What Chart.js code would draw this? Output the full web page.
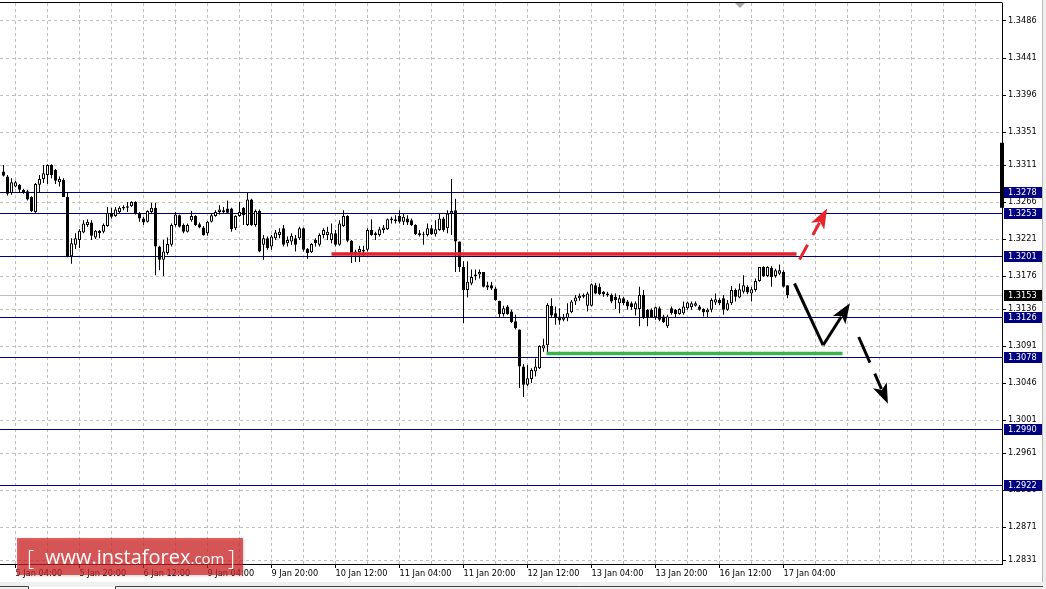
<!DOCTYPE html>
<html>
<head>
<meta charset="utf-8">
<style>
  html, body { margin: 0; padding: 0; background: #fff; }
  canvas { display: block; }
</style>
<script src="https://cdn.jsdelivr.net/npm/chart.js@4.4.1/dist/chart.umd.min.js"></script>
</head>
<body>
<canvas id="chart" width="1046" height="589"></canvas>
<script>
// H1 candles, one per bar index (0 = 5 Jan 01:00)
const opens = [
  1.3303,1.3297,1.3277,1.3285,1.3287,1.3281,1.3279,1.3272,1.3254,1.3287,
  1.3294,1.3299,1.3311,1.3305,1.3290,1.3293,1.3272,1.3200,1.3214,1.3220,
  1.3229,1.3238,1.3241,1.3223,1.3231,1.3230,1.3237,1.3253,1.3249,1.3254,
  1.3260,1.3259,1.3261,1.3266,1.3252,1.3246,1.3242,1.3254,1.3259,1.3212,
  1.3196,1.3204,1.3214,1.3238,1.3250,1.3238,1.3230,1.3244,1.3249,1.3239,
  1.3235,1.3228,1.3242,1.3249,1.3254,1.3256,1.3258,1.3258,1.3234,1.3249,
  1.3259,1.3238,1.3269,1.3238,1.3255,1.3214,1.3222,1.3212,1.3222,1.3226,
  1.3234,1.3216,1.3218,1.3222,1.3222,1.3234,1.3209,1.3205,1.3220,1.3214,
  1.3226,1.3226,1.3220,1.3228,1.3214,1.3237,1.3249,1.3219,1.3206,1.3205,
  1.3208,1.3208,1.3232,1.3226,1.3226,1.3232,1.3233,1.3244,1.3243,1.3249,
  1.3242,1.3246,1.3244,1.3238,1.3228,1.3227,1.3226,1.3234,1.3227,1.3232,
  1.3246,1.3234,1.3252,1.3256,1.3218,1.3187,1.3159,1.3167,1.3176,1.3178,
  1.3181,1.3165,1.3165,1.3161,1.3146,1.3130,1.3139,1.3133,1.3121,1.3111,
  1.3066,1.3044,1.3051,1.3060,1.3064,1.3088,1.3092,1.3140,1.3131,1.3127,
  1.3123,1.3125,1.3132,1.3145,1.3149,1.3151,1.3140,1.3140,1.3165,1.3163,
  1.3157,1.3155,1.3153,1.3151,1.3143,1.3149,1.3145,1.3143,1.3136,1.3136,
  1.3153,1.3135,1.3135,1.3126,1.3137,1.3127,1.3115,1.3137,1.3135,1.3130,
  1.3131,1.3137,1.3138,1.3140,1.3139,1.3136,1.3132,1.3135,1.3144,1.3147,
  1.3149,1.3135,1.3143,1.3159,1.3150,1.3157,1.3163,1.3155,1.3159,1.3170,
  1.3187,1.3176,1.3186,1.3176,1.3179,1.3181,1.3165
];
const highs = [
  1.3311,1.3299,1.3295,1.3292,1.3288,1.3282,1.3281,1.3273,1.3289,1.3299,
  1.3311,1.3312,1.3312,1.3306,1.3297,1.3295,1.3278,1.3222,1.3228,1.3233,
  1.3244,1.3245,1.3244,1.3232,1.3232,1.3240,1.3260,1.3259,1.3260,1.3261,
  1.3262,1.3266,1.3267,1.3267,1.3254,1.3248,1.3256,1.3265,1.3265,1.3213,
  1.3220,1.3223,1.3240,1.3254,1.3251,1.3240,1.3240,1.3255,1.3250,1.3241,
  1.3237,1.3243,1.3252,1.3256,1.3262,1.3260,1.3268,1.3259,1.3250,1.3266,
  1.3260,1.3277,1.3270,1.3257,1.3257,1.3226,1.3224,1.3226,1.3232,1.3234,
  1.3238,1.3224,1.3228,1.3226,1.3236,1.3235,1.3210,1.3216,1.3222,1.3228,
  1.3234,1.3236,1.3240,1.3232,1.3244,1.3256,1.3250,1.3220,1.3208,1.3213,
  1.3213,1.3234,1.3245,1.3230,1.3236,1.3238,1.3246,1.3248,1.3250,1.3256,
  1.3252,1.3250,1.3246,1.3239,1.3232,1.3230,1.3240,1.3238,1.3244,1.3252,
  1.3248,1.3256,1.3294,1.3270,1.3218,1.3194,1.3194,1.3184,1.3184,1.3184,
  1.3181,1.3169,1.3169,1.3163,1.3146,1.3140,1.3141,1.3135,1.3129,1.3111,
  1.3069,1.3068,1.3064,1.3076,1.3092,1.3100,1.3143,1.3149,1.3139,1.3137,
  1.3130,1.3143,1.3147,1.3153,1.3155,1.3155,1.3157,1.3167,1.3168,1.3167,
  1.3158,1.3157,1.3155,1.3155,1.3153,1.3151,1.3147,1.3145,1.3145,1.3163,
  1.3159,1.3136,1.3137,1.3139,1.3139,1.3129,1.3129,1.3139,1.3136,1.3137,
  1.3145,1.3145,1.3145,1.3145,1.3141,1.3137,1.3137,1.3149,1.3155,1.3149,
  1.3153,1.3147,1.3164,1.3161,1.3167,1.3177,1.3165,1.3163,1.3173,1.3187,
  1.3188,1.3188,1.3188,1.3185,1.3190,1.3183,1.3165
];
const lows = [
  1.3297,1.3274,1.3275,1.3284,1.3277,1.3276,1.3268,1.3254,1.3253,1.3277,
  1.3289,1.3288,1.3295,1.3288,1.3285,1.3272,1.3199,1.3191,1.3209,1.3210,
  1.3228,1.3236,1.3220,1.3221,1.3222,1.3228,1.3236,1.3246,1.3248,1.3252,
  1.3256,1.3254,1.3260,1.3251,1.3242,1.3238,1.3241,1.3252,1.3177,1.3183,
  1.3176,1.3202,1.3212,1.3236,1.3235,1.3228,1.3229,1.3242,1.3237,1.3234,
  1.3225,1.3225,1.3241,1.3248,1.3251,1.3252,1.3252,1.3230,1.3232,1.3248,
  1.3238,1.3237,1.3237,1.3236,1.3205,1.3196,1.3208,1.3208,1.3220,1.3222,
  1.3212,1.3212,1.3214,1.3206,1.3220,1.3206,1.3197,1.3204,1.3212,1.3212,
  1.3222,1.3220,1.3216,1.3212,1.3213,1.3236,1.3217,1.3192,1.3193,1.3193,
  1.3200,1.3206,1.3225,1.3220,1.3224,1.3228,1.3232,1.3240,1.3240,1.3240,
  1.3238,1.3238,1.3237,1.3226,1.3224,1.3214,1.3224,1.3226,1.3224,1.3231,
  1.3230,1.3228,1.3226,1.3181,1.3181,1.3119,1.3150,1.3165,1.3171,1.3173,
  1.3162,1.3159,1.3159,1.3146,1.3125,1.3127,1.3129,1.3119,1.3111,1.3040,
  1.3029,1.3042,1.3046,1.3054,1.3063,1.3084,1.3082,1.3125,1.3117,1.3117,
  1.3121,1.3121,1.3131,1.3141,1.3146,1.3149,1.3133,1.3139,1.3154,1.3153,
  1.3151,1.3151,1.3143,1.3136,1.3131,1.3141,1.3135,1.3135,1.3128,1.3115,
  1.3124,1.3115,1.3125,1.3123,1.3121,1.3119,1.3113,1.3129,1.3125,1.3129,
  1.3129,1.3135,1.3135,1.3139,1.3134,1.3127,1.3126,1.3132,1.3141,1.3141,
  1.3129,1.3134,1.3141,1.3145,1.3149,1.3155,1.3154,1.3145,1.3157,1.3169,
  1.3175,1.3175,1.3163,1.3174,1.3177,1.3162,1.3149
];
const closes = [
  1.3298,1.3276,1.3290,1.3290,1.3281,1.3278,1.3269,1.3255,1.3288,1.3294,
  1.3301,1.3311,1.3299,1.3292,1.3294,1.3272,1.3200,1.3216,1.3222,1.3231,
  1.3240,1.3242,1.3225,1.3231,1.3228,1.3238,1.3253,1.3248,1.3257,1.3259,
  1.3258,1.3261,1.3266,1.3252,1.3246,1.3241,1.3255,1.3259,1.3212,1.3196,
  1.3206,1.3215,1.3238,1.3251,1.3236,1.3230,1.3238,1.3249,1.3238,1.3235,
  1.3226,1.3242,1.3250,1.3254,1.3257,1.3254,1.3253,1.3233,1.3249,1.3254,
  1.3250,1.3269,1.3238,1.3255,1.3206,1.3222,1.3210,1.3224,1.3229,1.3230,
  1.3214,1.3220,1.3225,1.3214,1.3234,1.3208,1.3204,1.3215,1.3216,1.3226,
  1.3232,1.3230,1.3228,1.3214,1.3240,1.3249,1.3219,1.3204,1.3203,1.3209,
  1.3206,1.3232,1.3226,1.3228,1.3233,1.3235,1.3245,1.3246,1.3245,1.3242,
  1.3248,1.3241,1.3238,1.3227,1.3226,1.3226,1.3234,1.3227,1.3233,1.3246,
  1.3232,1.3252,1.3255,1.3218,1.3187,1.3159,1.3169,1.3175,1.3178,1.3181,
  1.3163,1.3162,1.3161,1.3147,1.3130,1.3137,1.3130,1.3120,1.3113,1.3066,
  1.3044,1.3052,1.3062,1.3066,1.3091,1.3092,1.3141,1.3128,1.3125,1.3122,
  1.3126,1.3131,1.3145,1.3150,1.3152,1.3153,1.3155,1.3166,1.3155,1.3154,
  1.3154,1.3153,1.3145,1.3147,1.3149,1.3143,1.3139,1.3138,1.3143,1.3153,
  1.3125,1.3125,1.3126,1.3138,1.3123,1.3120,1.3127,1.3131,1.3130,1.3136,
  1.3139,1.3144,1.3143,1.3143,1.3135,1.3132,1.3135,1.3147,1.3148,1.3143,
  1.3135,1.3143,1.3159,1.3151,1.3160,1.3165,1.3156,1.3160,1.3170,1.3187,
  1.3176,1.3187,1.3175,1.3183,1.3183,1.3163,1.3153
];

const xLabels = ["5 Jan 04:00", "5 Jan 20:00", "6 Jan 12:00", "9 Jan 04:00", "9 Jan 20:00",
  "10 Jan 12:00", "11 Jan 04:00", "11 Jan 20:00", "12 Jan 12:00", "13 Jan 04:00",
  "13 Jan 20:00", "16 Jan 12:00", "17 Jan 04:00"];
const xLabelBars = [3, 19, 35, 51, 67, 83, 99, 115, 131, 147, 163, 179, 195];

const yTicks = [1.3486, 1.3441, 1.3396, 1.3351, 1.3311, 1.3266, 1.3221, 1.3176,
  1.3136, 1.3091, 1.3046, 1.3001, 1.2961, 1.2916, 1.2871, 1.2831];

// horizontal levels with their labels on the price scale
const levelPrices = [1.3278, 1.3253, 1.3201, 1.3126, 1.3078, 1.2990, 1.2922];
const bidPrice = 1.3153;

// drawn objects: [bar, price]
const redLine = [[82, 1.3203], [198.25, 1.3203]];
const greenLine = [[135.75, 1.3082], [209.75, 1.3082]];
const blackLeg = [[197.75, 1.3167], [204.9, 1.3092]];
const arrows = [
  { from: [199, 1.3196], to: [205.9, 1.3258], color: "#e8242c", dash: [17, 11] },
  { from: [204.9, 1.3092], to: [211.6, 1.3143], color: "#000", dash: [] },
  { from: [213.8, 1.3102], to: [221.1, 1.3021], color: "#000", dash: [28, 12] }
];
const scaleMarker = [1.3338, 1.3259];
const shiftBar = 184;

const font = { family: "DejaVu Sans", size: 8.2 };
const NAVY = "#000080";

let gridBars = [];
for (let b = 3; b < 250; b += 8) gridBars.push(b);

function px(chart, p) {
  return [chart.scales.x.getPixelForValue(p[0]), chart.scales.y.getPixelForValue(p[1])];
}

function drawArrow(ctx, a, b, color, dash) {
  const dx = b[0] - a[0], dy = b[1] - a[1];
  const len = Math.hypot(dx, dy);
  const ux = dx / len, uy = dy / len;
  const headLen = 20, headW = 7.5;
  const bx = b[0] - ux * headLen, by = b[1] - uy * headLen;
  ctx.strokeStyle = color;
  ctx.fillStyle = color;
  ctx.lineWidth = 3;
  ctx.setLineDash(dash);
  ctx.beginPath();
  ctx.moveTo(a[0], a[1]);
  ctx.lineTo(bx + ux * 4, by + uy * 4);
  ctx.stroke();
  ctx.setLineDash([]);
  ctx.beginPath();
  ctx.moveTo(b[0], b[1]);
  ctx.lineTo(bx - uy * headW, by + ux * headW);
  ctx.lineTo(bx + ux * 5, by + uy * 5);
  ctx.lineTo(bx + uy * headW, by - ux * headW);
  ctx.closePath();
  ctx.fill();
}

const levelsPlugin = {
  id: "levels",
  beforeDatasetsDraw(chart) {
    const { ctx, chartArea } = chart;
    const y = chart.scales.y;
    ctx.save();
    ctx.lineWidth = 1;
    ctx.strokeStyle = "#c0c0c0";
    let yy = Math.round(y.getPixelForValue(bidPrice)) + 0.5;
    ctx.beginPath();
    ctx.moveTo(chartArea.left, yy);
    ctx.lineTo(chartArea.right, yy);
    ctx.stroke();
    ctx.strokeStyle = NAVY;
    levelPrices.forEach(p => {
      yy = Math.round(y.getPixelForValue(p)) + 0.5;
      ctx.beginPath();
      ctx.moveTo(chartArea.left, yy);
      ctx.lineTo(chartArea.right, yy);
      ctx.stroke();
    });
    ctx.restore();
  },
  afterDatasetsDraw(chart) {
    const { ctx } = chart;
    ctx.save();
    ctx.lineCap = "butt";
    ctx.lineWidth = 3.5;
    ctx.strokeStyle = "#e3222b";
    let a = px(chart, redLine[0]), b = px(chart, redLine[1]);
    ctx.beginPath(); ctx.moveTo(a[0], a[1]); ctx.lineTo(b[0], b[1]); ctx.stroke();
    ctx.strokeStyle = "#3cb44a";
    a = px(chart, greenLine[0]); b = px(chart, greenLine[1]);
    ctx.beginPath(); ctx.moveTo(a[0], a[1]); ctx.lineTo(b[0], b[1]); ctx.stroke();
    ctx.strokeStyle = "#000";
    ctx.lineWidth = 3;
    a = px(chart, blackLeg[0]); b = px(chart, blackLeg[1]);
    ctx.beginPath(); ctx.moveTo(a[0], a[1]); ctx.lineTo(b[0], b[1]); ctx.stroke();
    arrows.forEach(ar => drawArrow(ctx, px(chart, ar.from), px(chart, ar.to), ar.color, ar.dash));
    ctx.restore();
  },
  afterDraw(chart) {
    const { ctx, chartArea } = chart;
    const y = chart.scales.y;
    const x = chart.scales.x;
    ctx.save();
    // top frame line
    ctx.strokeStyle = "#000";
    ctx.lineWidth = 1;
    ctx.beginPath();
    ctx.moveTo(0, chartArea.top - 0.5);
    ctx.lineTo(chartArea.right + 0.5, chartArea.top - 0.5);
    ctx.stroke();
    // shift marker
    const sx = Math.round(x.getPixelForValue(shiftBar));
    ctx.fillStyle = "#a8a8a8";
    ctx.beginPath();
    ctx.moveTo(sx - 5, chartArea.top);
    ctx.lineTo(sx + 5, chartArea.top);
    ctx.lineTo(sx, chartArea.top + 5);
    ctx.closePath();
    ctx.fill();
    // thick marker on the price scale
    const m1 = y.getPixelForValue(scaleMarker[0]), m2 = y.getPixelForValue(scaleMarker[1]);
    ctx.fillStyle = "#000";
    ctx.fillRect(chartArea.right - 2, m1, 4, m2 - m1);
    // price labels on the scale
    ctx.font = font.size + "px " + font.family;
    ctx.textBaseline = "middle";
    ctx.textAlign = "left";
    const boxes = levelPrices.map(p => [p, NAVY]).concat([[bidPrice, "#000"]]);
    boxes.forEach(([p, c]) => {
      const yy = Math.round(y.getPixelForValue(p));
      ctx.fillStyle = c;
      ctx.fillRect(chartArea.right + 2, yy - 5, 38, 11);
      ctx.fillStyle = "#fff";
      ctx.fillText(p.toFixed(4), chartArea.right + 6, yy + 0.5);
    });
    // window frame on the right and bottom tabs
    ctx.fillStyle = "#f0f0f0";
    ctx.fillRect(1043, 0, 3, 589);
    ctx.strokeStyle = "#b8b8b8";
    ctx.beginPath(); ctx.moveTo(1042.5, 0); ctx.lineTo(1042.5, 589); ctx.stroke();
    ctx.fillStyle = "#f0f0f0";
    ctx.fillRect(0, 582, 1043, 7);
    ctx.strokeStyle = "#404040";
    ctx.beginPath();
    ctx.moveTo(0, 586.5); ctx.lineTo(28.5, 586.5); ctx.lineTo(28.5, 589);
    ctx.moveTo(115.5, 589); ctx.lineTo(115.5, 586.5); ctx.lineTo(1043, 586.5);
    ctx.stroke();
    ctx.fillStyle = "#fff";
    ctx.fillRect(29, 587, 86, 2);
    // watermark
    ctx.shadowColor = "rgba(0,0,0,0.25)";
    ctx.shadowBlur = 3;
    ctx.shadowOffsetX = 1;
    ctx.shadowOffsetY = 1;
    ctx.fillStyle = "rgba(214, 36, 38, 0.72)";
    ctx.fillRect(17, 538, 226, 37);
    ctx.shadowColor = "transparent";
    ctx.fillStyle = "#fff";
    ctx.textBaseline = "alphabetic";
    ctx.font = "300 22px 'Open Sans'";
    ctx.fillText("[", 27, 566);
    ctx.font = "20px 'Open Sans'";
    ctx.fillText("www.instaforex", 45, 564);
    const w = ctx.measureText("www.instaforex").width;
    ctx.font = "15px 'Open Sans'";
    ctx.fillText(".com", 45 + w, 564);
    ctx.font = "300 22px 'Open Sans'";
    ctx.fillText("]", 228, 566);
    ctx.restore();
  }
};

const bodyColors = opens.map((o, i) => closes[i] >= o ? "#fff" : "#000");

new Chart(document.getElementById("chart"), {
  type: "bar",
  data: {
    datasets: [
      {
        label: "wicks",
        data: lows.map((l, i) => ({ x: i, y: [l, highs[i]] })),
        backgroundColor: "#000",
        borderWidth: 0,
        barThickness: 1,
        grouped: false,
        inflateAmount: 0,
        order: 2
      },
      {
        label: "bodies",
        data: opens.map((o, i) => ({ x: i, y: [o, closes[i]] })),
        backgroundColor: bodyColors,
        borderColor: "#000",
        borderWidth: 1,
        borderSkipped: false,
        barThickness: 3,
        grouped: false,
        inflateAmount: 0,
        order: 1
      }
    ]
  },
  options: {
    responsive: false,
    animation: false,
    layout: { autoPadding: false, padding: { top: 3, left: 0, right: 0, bottom: 0 } },
    plugins: { legend: { display: false }, tooltip: { enabled: false } },
    scales: {
      x: {
        type: "linear",
        offset: false,
        min: -0.875,
        max: 249.625,
        afterBuildTicks: s => { s.ticks = gridBars.map(v => ({ value: v })); },
        afterFit: s => {
          s.height = 25;
          s.paddingLeft = 0; s.paddingRight = 0; s.paddingTop = 0; s.paddingBottom = 0;
        },
        ticks: {
          autoSkip: false,
          maxRotation: 0,
          align: "start",
          padding: 1,
          color: "#000",
          font: font,
          callback: v => {
            const k = xLabelBars.indexOf(v);
            return k >= 0 ? xLabels[k] : "";
          }
        },
        grid: {
          offset: false,
          color: "#c0c0c0",
          tickLength: 4,
          tickBorderDash: [],
          tickColor: c => (c.tick && xLabelBars.includes(c.tick.value)) ? "#000" : "rgba(0,0,0,0)"
        },
        border: { color: "#000", dash: [3, 3] }
      },
      y: {
        position: "right",
        min: 1.282614,
        max: 1.350787,
        afterBuildTicks: s => { s.ticks = yTicks.map(v => ({ value: v })); },
        afterFit: s => {
          s.width = 44;
          s.paddingLeft = 0; s.paddingRight = 0; s.paddingTop = 0; s.paddingBottom = 0;
        },
        ticks: {
          padding: 2,
          color: "#000",
          font: font,
          callback: v => v.toFixed(4)
        },
        grid: {
          color: "#c0c0c0",
          tickLength: 4,
          tickBorderDash: [],
          tickColor: "#000"
        },
        border: { color: "#000", dash: [3, 3] }
      }
    }
  },
  plugins: [levelsPlugin]
});
</script>
</body>
</html>
